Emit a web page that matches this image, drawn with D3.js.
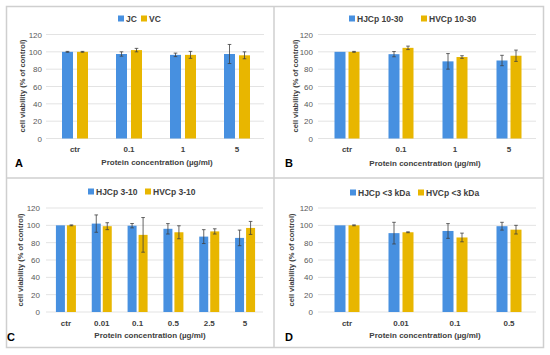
<!DOCTYPE html>
<html>
<head>
<meta charset="utf-8">
<script src="https://cdn.jsdelivr.net/npm/d3@7"></script>
<style>
  body { margin: 0; background: #fff; }
  text { font-family: "Liberation Sans", Arial, sans-serif; }
</style>
</head>
<body>
<div id="chart"></div>
<script>
const width = 550, height = 355;

// Panel A
const catsA = ['ctr', '0.1', '1', '5'];
const jcA = [100, 97.5, 96.5, 97.5];
const jcErrA = [0.5, 2.5, 2, 11];
const vcA = [100, 102, 96.5, 96];
const vcErrA = [0.5, 2, 4, 4];

// Panel B
const catsB = ['ctr', '0.1', '1', '5'];
const jcB = [100, 97.3, 89, 90];
const jcErrB = [0, 3, 9, 6];
const vcB = [100, 104.6, 94, 95.5];
const vcErrB = [0.5, 2, 1.5, 6.5];

// Panel C
const catsC = ['ctr', '0.01', '0.1', '0.5', '2.5', '5'];
const jcC = [100, 102, 99.6, 96, 87, 85.5];
const jcErrC = [0, 10, 2.5, 6, 8, 9];
const vcC = [100, 99, 89, 92, 93, 97];
const vcErrC = [0.5, 4, 20, 7.5, 3, 7.5];

// Panel D
const catsD = ['ctr', '0.01', '0.1', '0.5'];
const jcD = [100, 91, 93.5, 99];
const jcErrD = [0, 12.5, 8.5, 4.5];
const vcD = [100, 92, 86, 95];
const vcErrD = [0.5, 0.5, 5, 5];

const yTicks = [0, 20, 40, 60, 80, 100, 120];
const blue = '#4790e0', gold = '#e8b600';

const svg = d3.select('#chart').append('svg')
    .attr('width', width)
    .attr('height', height);

// outer frame and dividers
svg.append('rect')
    .attr('x', 6.5).attr('y', 6.5)
    .attr('width', 537).attr('height', 341)
    .attr('fill', 'none').attr('stroke', '#cfcfcf').attr('stroke-width', 1.5);
svg.append('line').attr('x1', 274).attr('x2', 274).attr('y1', 6).attr('y2', 348)
    .attr('stroke', '#cfcfcf').attr('stroke-width', 1.5);
svg.append('line').attr('x1', 6).attr('x2', 544).attr('y1', 178).attr('y2', 178)
    .attr('stroke', '#cfcfcf').attr('stroke-width', 1.5);

function drawPanel(p) {
    const g = svg.append('g');

    const x = d3.scaleBand().domain(p.cats).range(p.xr).paddingInner(0).paddingOuter(0);
    const y = d3.scaleLinear().domain([0, 120]).range(p.yr);

    // gridlines
    g.selectAll('.grid').data(yTicks).enter().append('line')
        .attr('x1', p.xr[0] - 2).attr('x2', p.xr[1])
        .attr('y1', d => y(d)).attr('y2', d => y(d))
        .attr('stroke', '#e3e3e3').attr('stroke-width', 1);

    // y tick labels
    g.selectAll('.yt').data(yTicks).enter().append('text')
        .attr('x', p.ytx).attr('y', d => y(d) + 3)
        .attr('text-anchor', 'end')
        .attr('font-size', 8).attr('fill', '#595959')
        .text(d => d);

    const bw = p.bw, gap = p.gap;
    const series = [
        { vals: p.jc, errs: p.jcErr, color: blue, off: -gap / 2 - bw },
        { vals: p.vc, errs: p.vcErr, color: gold, off: gap / 2 }
    ];

    series.forEach(s => {
        const cx = (c) => x(c) + x.bandwidth() / 2 + s.off;
        g.selectAll(null).data(p.cats).enter().append('rect')
            .attr('x', (c) => cx(c))
            .attr('y', (c, i) => y(s.vals[i]))
            .attr('width', bw)
            .attr('height', (c, i) => y(0) - y(s.vals[i]))
            .attr('fill', s.color);
        // error bars
        p.cats.forEach((c, i) => {
            const e = s.errs[i];
            if (e <= 0) return;
            const mx = cx(c) + bw / 2;
            const top = y(s.vals[i] + e), bot = y(s.vals[i] - e);
            g.append('line').attr('x1', mx).attr('x2', mx).attr('y1', top).attr('y2', bot)
                .attr('stroke', '#404040').attr('stroke-width', 0.8);
            [top, bot].forEach(yy => g.append('line')
                .attr('x1', mx - 1.8).attr('x2', mx + 1.8).attr('y1', yy).attr('y2', yy)
                .attr('stroke', '#404040').attr('stroke-width', 0.8));
        });
    });

    // x tick labels
    g.selectAll('.xt').data(p.cats).enter().append('text')
        .attr('x', c => x(c) + x.bandwidth() / 2)
        .attr('y', p.xty)
        .attr('text-anchor', 'middle')
        .attr('font-size', 8).attr('font-weight', 'bold').attr('fill', '#404040')
        .text(c => c);

    // axis titles
    g.append('text')
        .attr('x', p.xtitle[0]).attr('y', p.xtitle[1])
        .attr('text-anchor', 'middle')
        .attr('font-size', 8).attr('font-weight', 'bold').attr('fill', '#404040')
        .text('Protein concentration (µg/ml)');
    g.append('text')
        .attr('transform', `translate(${p.ytitle[0]},${p.ytitle[1]}) rotate(-90)`)
        .attr('text-anchor', 'middle')
        .attr('font-size', 7.5).attr('font-weight', 'bold').attr('fill', '#404040')
        .text('cell viability (% of control)');

    // panel letter
    g.append('text')
        .attr('x', p.letter[0]).attr('y', p.letter[1])
        .attr('font-size', 11).attr('font-weight', 'bold').attr('fill', '#000')
        .text(p.name);

    // legend
    const leg = g.append('g');
    [[blue, p.names[0], p.leg[0]], [gold, p.names[1], p.leg[1]]].forEach(([col, name, lx]) => {
        leg.append('rect').attr('x', lx).attr('y', p.legy - 3.5).attr('width', 6).attr('height', 6).attr('fill', col);
        leg.append('text').attr('x', lx + 8).attr('y', p.legy + 3)
            .attr('font-size', 8.5).attr('font-weight', 'bold').attr('fill', '#404040')
            .text(name);
    });
}

drawPanel({
    name: 'A', cats: catsA, jc: jcA, jcErr: jcErrA, vc: vcA, vcErr: vcErrA,
    names: ['JC', 'VC'], xr: [48, 264], yr: [138.5, 34.5], bw: 11, gap: 4,
    ytx: 42, xty: 152, xtitle: [157, 165], ytitle: [25, 86], letter: [15, 167],
    legy: 19, leg: [118, 141]
});
drawPanel({
    name: 'B', cats: catsB, jc: jcB, jcErr: jcErrB, vc: vcB, vcErr: vcErrB,
    names: ['HJCp 10-30', 'HVCp 10-30'], xr: [320, 536], yr: [138.5, 34.5], bw: 11, gap: 3,
    ytx: 313, xty: 152, xtitle: [425, 166], ytitle: [298, 86], letter: [285, 167],
    legy: 19, leg: [349, 421]
});
drawPanel({
    name: 'C', cats: catsC, jc: jcC, jcErr: jcErrC, vc: vcC, vcErr: vcErrC,
    names: ['HJCp 3-10', 'HVCp 3-10'], xr: [48, 263], yr: [312, 208], bw: 9, gap: 2,
    ytx: 40, xty: 326, xtitle: [150, 338], ytitle: [23, 260], letter: [7, 341],
    legy: 192, leg: [88, 145]
});
drawPanel({
    name: 'D', cats: catsD, jc: jcD, jcErr: jcErrD, vc: vcD, vcErr: vcErrD,
    names: ['HJCp <3 kDa', 'HVCp <3 kDa'], xr: [320, 536], yr: [312, 208], bw: 11, gap: 3,
    ytx: 313, xty: 326, xtitle: [425, 338], ytitle: [294, 260], letter: [285, 341],
    legy: 193, leg: [350, 418]
});
</script>
</body>
</html>
